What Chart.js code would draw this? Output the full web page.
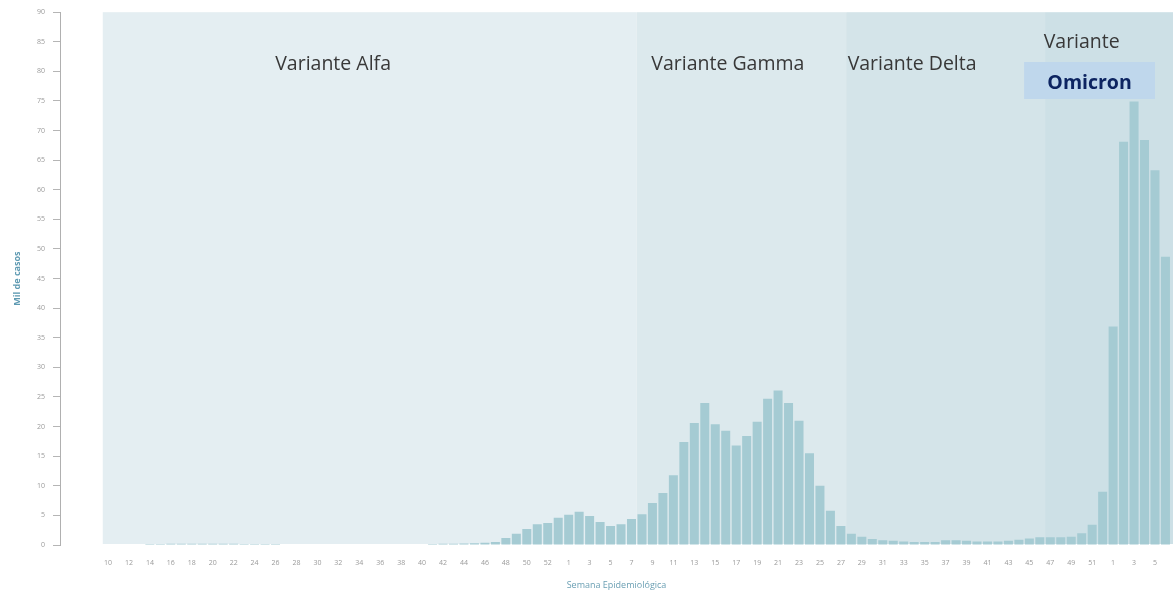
<!DOCTYPE html>
<html>
<head>
<meta charset="utf-8">
<script src="https://cdn.jsdelivr.net/npm/chart.js@4.4.1/dist/chart.umd.min.js"></script>
<style>
html,body{margin:0;padding:0;background:#ffffff;}
#wrap{width:1173px;height:591px;position:relative;}
</style>
</head>
<body>
<div id="wrap"><canvas id="c"></canvas></div>
<script>
// Epidemiological weeks: 2020 w10..w53, 2021 w1..w52, 2022 w1..w6
const weekLabels = [
  '10','11','12','13','14','15','16','17','18','19','20','21','22','23','24','25','26','27','28','29',
  '30','31','32','33','34','35','36','37','38','39','40','41','42','43','44','45','46','47','48','49',
  '50','51','52','53',
  '1','2','3','4','5','6','7','8','9','10','11','12','13','14','15','16','17','18','19','20',
  '21','22','23','24','25','26','27','28','29','30','31','32','33','34','35','36','37','38','39','40',
  '41','42','43','44','45','46','47','48','49','50','51','52',
  '1','2','3','4','5','6'
];

// Weekly cases (thousands)
const cases = [
  0.1,0.1,0.1,0.1,0.15,0.15,0.2,0.2,0.2,0.2,
  0.2,0.2,0.2,0.15,0.15,0.15,0.15,0.1,0.1,0.1,
  0.1,0.1,0.1,0.1,0.1,0.1,0.1,0.1,0.1,0.1,
  0.1,0.15,0.2,0.2,0.25,0.3,0.4,0.5,1.2,1.9,
  2.7,3.5,3.7,4.6,
  5.1,5.6,4.9,3.9,3.2,3.5,4.4,5.2,7.1,8.8,
  11.8,17.4,20.6,24.0,20.4,19.3,16.8,18.4,20.8,24.7,
  26.1,24.0,21.0,15.5,10.0,5.8,3.2,1.9,1.4,1.0,
  0.8,0.7,0.6,0.5,0.5,0.5,0.8,0.8,0.7,0.6,
  0.6,0.6,0.7,0.9,1.1,1.3,1.3,1.3,1.4,2.0,
  3.4,9.0,
  36.9,68.1,74.9,68.4,63.3,48.7
];

// Variant periods: index of first week of each variant
const variantNames = ['Variante Alfa','Variante Gamma','Variante Delta','Omicron'];
const variantStartIndex = [0, 51, 71, 90];

// y tick range
const yMin = 0, yMax = 90, yStep = 5;

const bandColors = ['#e4eef2','#dce9ed','#d4e4e9','#cde0e6'];
const labelPos = [21.5, 59.2, 76.8]; // label centres in week-index units

const variantPlugin = {
  id: 'variants',
  beforeDatasetsDraw(chart) {
    const {ctx, chartArea: a, scales: {x}} = chart;
    ctx.save();
    for (let k = 0; k < variantStartIndex.length; k++) {
      const x0 = x.getPixelForValue(variantStartIndex[k] - 0.5);
      const x1 = k + 1 < variantStartIndex.length ? x.getPixelForValue(variantStartIndex[k + 1] - 0.5) : a.right;
      ctx.fillStyle = bandColors[k];
      ctx.fillRect(x0, a.top, x1 - x0, a.bottom - a.top - 1);
    }
    ctx.restore();
  },
  afterDatasetsDraw(chart) {
    const {ctx, scales: {x}} = chart;
    ctx.save();
    ctx.textAlign = 'center';
    ctx.textBaseline = 'alphabetic';
    ctx.fillStyle = '#383838';
    ctx.font = '19.5px "Open Sans"';
    for (let k = 0; k < 3; k++) {
      ctx.fillText(variantNames[k], x.getPixelForValue(labelPos[k]), 70);
    }
    ctx.fillText('Variante', x.getPixelForValue(93.0), 48);
    const bx0 = x.getPixelForValue(87.5), bx1 = x.getPixelForValue(100);
    ctx.fillStyle = '#bfd7ec';
    ctx.fillRect(bx0, 62, bx1 - bx0, 37);
    ctx.fillStyle = '#0d2461';
    ctx.font = 'bold 19.5px "Open Sans"';
    ctx.fillText(variantNames[3], (bx0 + bx1) / 2, 89);
    ctx.restore();
  }
};

new Chart(document.getElementById('c'), {
  type: 'bar',
  data: {
    datasets: [{
      label: 'Casos',
      data: cases.map((v, i) => ({x: i, y: v})),
      backgroundColor: '#a5cbd3',
      borderWidth: 0,
      barPercentage: 0.86,
      categoryPercentage: 1.0
    }]
  },
  options: {
    responsive: true,
    maintainAspectRatio: false,
    animation: false,
    layout: {padding: {top: 12, right: 0, bottom: 0, left: 0}},
    plugins: {legend: {display: false}, tooltip: {enabled: false}},
    scales: {
      x: {
        type: 'linear',
        offset: false,
        min: -4.585,
        max: 101.72,
        grid: {display: false, drawTicks: false, offset: false},
        border: {display: false},
        afterBuildTicks(scale) {
          const t = [];
          for (let i = 0; i < weekLabels.length; i += 2) t.push({value: i});
          scale.ticks = t;
        },
        afterFit(scale) { scale.height = 46; },
        ticks: {
          autoSkip: false,
          maxRotation: 0,
          minRotation: 0,
          padding: 14,
          color: '#9a9a9a',
          font: {size: 7, family: 'Open Sans'},
          callback: (v) => weekLabels[v] !== undefined ? weekLabels[v] : ''
        },
        title: {
          display: true,
          text: 'Semana Epidemiológica',
          color: '#6a9fb3',
          font: {size: 9, family: 'Open Sans'},
          padding: {top: 0, bottom: 0}
        }
      },
      y: {
        min: yMin,
        max: yMax,
        afterFit(scale) { scale.width = 60; },
        grid: {display: true, drawOnChartArea: false, drawTicks: true, tickLength: 7, color: '#b5b5b5'},
        border: {display: true, color: '#b0b0b0'},
        ticks: {
          stepSize: yStep,
          padding: 8,
          color: '#9a9a9a',
          font: {size: 7, family: 'Open Sans'}
        },
        title: {
          display: true,
          text: 'Mil de casos',
          color: '#5e9ab2',
          font: {size: 9, family: 'Open Sans', weight: 'bold'},
          padding: {top: 12, bottom: 0}
        }
      }
    }
  },
  plugins: [variantPlugin]
});
</script>
</body>
</html>
